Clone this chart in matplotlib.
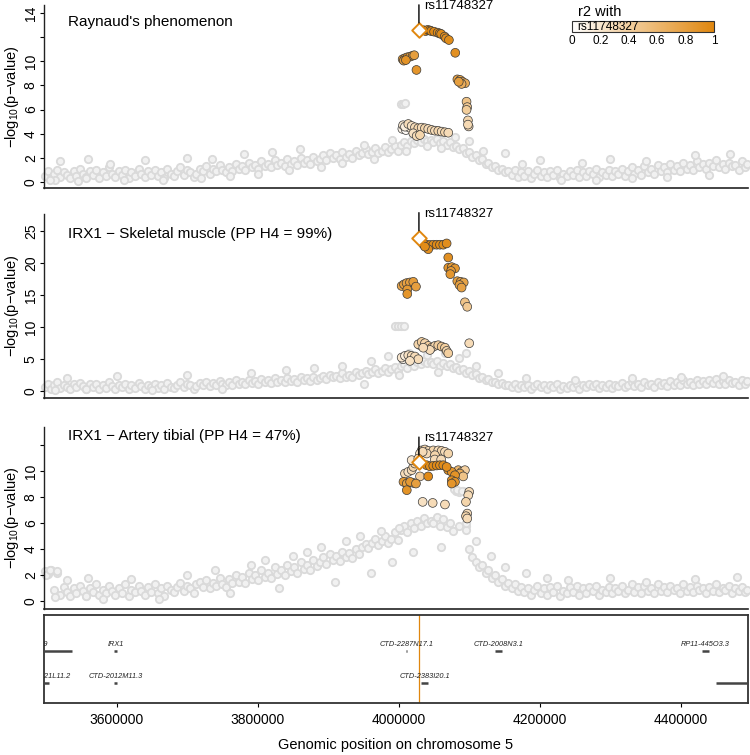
import matplotlib
matplotlib.use('Agg')
import matplotlib.pyplot as plt
from matplotlib.colors import LinearSegmentedColormap, Normalize
from matplotlib.cm import ScalarMappable
import numpy as np

plt.rcParams['font.family'] = ['Liberation Sans', 'DejaVu Sans']
plt.rcParams['mathtext.fontset'] = 'custom'
plt.rcParams['mathtext.rm'] = 'Liberation Sans'

# ---------------- data ----------------
lead_snp = "rs11748327"
lead_kb = 4028.5
titles = ["Raynaud's phenomenon",
          "IRX1 \u2212 Skeletal muscle (PP H4 = 99%)",
          "IRX1 \u2212 Artery tibial (PP H4 = 47%)"]
lead_y = [12.6, 24.0, 10.7]

# SNP positions (kb) without LD information (grey)
snp_kb = [3498, 3502, 3507, 3511, 3516, 3520, 3525, 3529, 3534, 3539,
          3543, 3548, 3552, 3557, 3562, 3566, 3571, 3575, 3580, 3585,
          3589, 3594, 3598, 3603, 3608, 3612, 3617, 3621, 3626, 3631,
          3635, 3640, 3644, 3649, 3654, 3658, 3663, 3667, 3672, 3677,
          3681, 3686, 3690, 3695, 3700, 3704, 3709, 3713, 3718, 3723,
          3727, 3732, 3736, 3741, 3746, 3750, 3755, 3759, 3764, 3769,
          3773, 3778, 3782, 3787, 3792, 3796, 3801, 3805, 3810, 3815,
          3819, 3824, 3828, 3833, 3838, 3842, 3847, 3851, 3856, 3861,
          3865, 3870, 3874, 3879, 3884, 3888, 3893, 3897, 3902, 3907,
          3911, 3916, 3920, 3925, 3930, 3934, 3939, 3943, 3948, 3953,
          3957, 3962, 3966, 3971, 3976, 3980, 3985, 3989, 3994, 3999,
          4003, 4008, 4012, 4017, 4022, 4026, 4031, 4035, 4040, 4045,
          4049, 4054, 4058, 4063, 4068, 4072, 4077, 4081, 4086, 4091,
          4095, 4100, 4104, 4109, 4114, 4118, 4123, 4127, 4132, 4137,
          4141, 4146, 4150, 4155, 4160, 4164, 4169, 4173, 4178, 4183,
          4187, 4192, 4196, 4201, 4206, 4210, 4215, 4219, 4224, 4229,
          4233, 4238, 4242, 4247, 4252, 4256, 4261, 4265, 4270, 4275,
          4279, 4284, 4288, 4293, 4298, 4302, 4307, 4311, 4316, 4321,
          4325, 4330, 4334, 4339, 4344, 4348, 4353, 4357, 4362, 4367,
          4371, 4376, 4380, 4385, 4390, 4394, 4399, 4403, 4408, 4413,
          4417, 4422, 4426, 4431, 4436, 4440, 4445, 4449, 4454, 4459,
          4463, 4468, 4472, 4477, 4482, 4486, 4491, 4494, 3513, 3556]

grey1_y = [0.5, 0.9, 0.3, 0.7, 1.0, 0.4, 0.8, 0.6, 0.3, 0.9,
           0.5, 1.1, 0.7, 0.4, 0.9, 0.6, 1.0, 0.3, 0.8, 0.5,
           1.2, 0.7, 0.4, 0.9, 0.6, 1.0, 0.3, 0.8, 0.5, 1.1,
           0.7, 0.4, 0.9, 0.6, 1.0, 0.5, 0.8, 0.3, 1.1, 0.7,
           0.5, 0.9, 1.2, 0.6, 1.0, 0.8, 0.4, 0.7, 1.1, 0.9,
           1.3, 0.7, 1.1, 0.9, 1.4, 1.0, 0.8, 1.2, 0.9, 1.5,
           1.1, 1.3, 1.0, 1.6, 1.2, 1.4, 1.1, 1.7, 1.3, 1.5,
           1.2, 1.8, 1.4, 1.6, 1.3, 1.9, 1.5, 1.7, 1.4, 2.0,
           1.6, 1.8, 1.5, 2.1, 1.7, 1.9, 2.2, 1.8, 2.4, 2.0,
           2.2, 1.9, 2.5, 2.1, 2.3, 2.0, 2.6, 2.2, 2.4, 2.7,
           2.3, 2.5, 2.8, 2.4, 2.6, 2.9, 2.5, 2.7, 3.0, 2.6,
           3.1, 3.3, 3.0, 3.4, 3.2, 3.5, 3.3, 3.6, 3.4, 3.5,
           3.3, 3.6, 3.2, 3.4, 3.1, 3.3, 2.9, 3.0, 2.7, 2.8,
           2.4, 2.5, 2.1, 2.2, 1.8, 1.9, 1.5, 1.6, 1.2, 1.3,
           1.0, 1.1, 0.8, 0.9, 0.6, 1.0, 0.4, 0.8, 0.5, 0.9,
           0.3, 0.7, 1.0, 0.5, 0.8, 0.4, 0.9, 0.6, 1.0, 0.3,
           0.7, 0.5, 0.9, 0.6, 1.0, 0.4, 0.8, 0.5, 0.9, 0.7,
           1.1, 0.4, 0.8, 0.6, 1.0, 0.5, 0.9, 0.7, 1.1, 0.5,
           0.9, 1.2, 0.7, 1.0, 0.6, 1.3, 0.8, 1.1, 0.7, 1.4,
           0.9, 1.2, 0.8, 1.5, 1.0, 1.3, 0.9, 1.6, 1.1, 1.4,
           1.0, 1.7, 1.2, 1.5, 1.1, 1.6, 1.3, 1.8, 1.2, 1.5,
           1.1, 1.6, 1.3, 1.4, 1.0, 1.7, 1.2, 1.5, 0.2, 0.3]

grey2_y = [0.6, 1.2, 0.4, 0.9, 1.4, 0.5, 1.0, 0.7, 0.3, 1.1,
           0.6, 1.3, 0.8, 0.4, 1.1, 0.7, 1.2, 0.3, 0.9, 0.5,
           1.4, 0.8, 0.4, 1.0, 0.6, 1.2, 0.3, 0.9, 0.5, 1.3,
           0.8, 0.4, 1.0, 0.6, 1.2, 0.5, 0.9, 0.3, 1.3, 0.7,
           0.5, 1.0, 1.4, 0.6, 1.2, 0.9, 0.4, 0.8, 1.3, 1.0,
           1.5, 0.8, 1.3, 1.0, 1.6, 1.1, 0.9, 1.4, 1.0, 1.7,
           1.2, 1.5, 1.1, 1.8, 1.3, 1.6, 1.2, 1.9, 1.4, 1.7,
           1.3, 2.0, 1.5, 1.8, 1.4, 2.1, 1.6, 1.9, 1.5, 2.2,
           1.7, 2.0, 1.6, 2.3, 1.8, 2.1, 2.4, 1.9, 2.6, 2.2,
           2.4, 2.0, 2.8, 2.3, 2.6, 2.2, 3.0, 2.5, 2.8, 3.2,
           2.7, 3.0, 3.4, 2.9, 3.2, 3.6, 3.0, 3.4, 3.8, 3.2,
           3.9, 4.2, 3.7, 4.4, 4.0, 4.6, 4.2, 4.8, 4.4, 4.5,
           4.2, 4.7, 4.0, 4.4, 3.9, 4.2, 3.6, 3.8, 3.3, 3.5,
           2.9, 3.1, 2.5, 2.7, 2.1, 2.3, 1.8, 1.9, 1.4, 1.5,
           1.1, 1.3, 0.9, 1.0, 0.7, 1.1, 0.5, 0.9, 0.6, 1.0,
           0.4, 0.8, 1.1, 0.6, 0.9, 0.4, 1.0, 0.7, 1.2, 0.3,
           0.8, 0.5, 1.0, 0.7, 1.2, 0.4, 0.9, 0.6, 1.1, 0.8,
           1.2, 0.5, 0.9, 0.7, 1.1, 0.5, 1.0, 0.8, 1.3, 0.6,
           1.0, 1.4, 0.8, 1.1, 0.7, 1.5, 0.9, 1.2, 0.7, 1.4,
           0.9, 1.3, 0.8, 1.6, 1.0, 1.4, 0.9, 1.7, 1.1, 1.5,
           1.0, 1.8, 1.2, 1.6, 1.1, 1.7, 1.3, 1.9, 1.2, 1.6,
           1.1, 1.7, 1.3, 1.5, 1.0, 1.8, 1.2, 1.6, 0.2, 0.3]

grey3_y = [2.3, 2.1, 2.4, 0.9, 2.2, 0.5, 1.1, 0.7, 0.4, 1.0,
           0.6, 1.2, 0.8, 0.4, 1.0, 0.7, 1.3, 0.5, 0.9, 0.6,
           1.2, 0.8, 0.5, 1.0, 0.6, 1.3, 0.4, 0.9, 0.7, 1.2,
           0.8, 0.5, 1.1, 0.7, 1.3, 0.6, 1.0, 0.4, 1.2, 0.9,
           0.7, 1.1, 1.4, 0.8, 1.2, 1.0, 0.6, 1.3, 1.5, 1.1,
           1.6, 1.0, 1.4, 1.2, 1.8, 1.3, 1.1, 1.7, 1.4, 2.0,
           1.5, 1.9, 1.4, 2.2, 1.7, 2.0, 1.6, 2.4, 1.9, 2.2,
           1.8, 2.6, 2.1, 2.4, 2.0, 2.8, 2.3, 2.6, 2.2, 3.0,
           2.5, 2.8, 2.4, 3.2, 2.7, 3.0, 3.4, 2.9, 3.6, 3.2,
           3.5, 3.1, 3.8, 3.4, 3.7, 3.3, 4.0, 3.6, 4.2, 4.4,
           4.1, 4.5, 4.8, 4.3, 4.6, 5.0, 4.5, 4.8, 5.3, 4.7,
           5.5, 5.8, 5.3, 6.0, 5.6, 6.2, 5.8, 6.4, 6.0, 6.2,
           6.0, 6.5, 5.8, 6.3, 5.7, 6.0, 5.4, 8.5, 8.4, 8.5,
           5.8, 4.0, 3.4, 3.0, 2.6, 2.8, 2.2, 2.4, 1.8, 2.0,
           1.5, 1.7, 1.2, 1.4, 1.0, 1.3, 0.8, 1.1, 0.7, 1.0,
           0.5, 0.9, 1.2, 0.6, 1.0, 0.5, 1.1, 0.7, 1.2, 0.4,
           0.8, 0.6, 1.1, 0.7, 1.2, 0.5, 1.0, 0.6, 1.1, 0.8,
           1.2, 0.5, 0.9, 0.7, 1.1, 0.6, 1.0, 0.8, 1.2, 0.6,
           0.9, 1.3, 0.7, 1.1, 0.6, 1.2, 0.8, 1.0, 0.6, 1.3,
           0.8, 1.1, 0.7, 1.2, 0.9, 1.0, 0.6, 1.3, 0.8, 1.1,
           0.7, 1.2, 0.9, 1.0, 0.6, 1.1, 0.8, 1.3, 0.7, 1.0,
           0.9, 1.2, 0.6, 1.0, 0.8, 1.1, 0.7, 0.9, 0.3, 0.4]

grey1_extra = [(3505, 0.2), (3520, 1.7), (3545, 0.1), (3560, 1.9), (3590, 1.5), (3610, 0.2),
               (3640, 1.8), (3665, 0.15), (3700, 2.0), (3720, 0.3), (3735, 1.9), (3760, 0.5),
               (3780, 2.3), (3800, 0.7), (3820, 2.5), (3845, 1.0), (3860, 2.7), (3890, 1.2),
               (3920, 1.6), (3950, 3.1), (3965, 1.9), (3990, 3.5), (4010, 2.6), (4020, 4.0),
               (4040, 3.0), (4060, 2.8), (4080, 3.7), (4100, 3.4), (4120, 2.6), (4150, 2.4),
               (4175, 1.5), (4200, 1.8), (4230, 0.2), (4260, 1.6), (4280, 0.2), (4300, 1.9),
               (4330, 0.3), (4350, 1.7), (4380, 0.4), (4420, 2.2), (4440, 0.6), (4470, 2.3),
               (4003, 6.5), (4006, 6.5), (4009, 6.55)]
grey2_extra = [(3530, 2.1), (3600, 2.4), (3650, 0.2), (3700, 2.6), (3750, 0.3), (3790, 2.9),
               (3840, 3.3), (3880, 3.6), (3920, 4.0), (3950, 1.2), (3960, 4.8), (3985, 5.5),
               (4000, 2.5), (4015, 6.0), (4040, 5.6), (4055, 3.0), (4065, 5.9), (4085, 5.2),
               (4095, 6.0), (4110, 4.0), (4140, 2.8), (4180, 2.0), (4250, 1.8), (4330, 2.0),
               (4400, 2.2), (4460, 2.4), (3995, 10.2), (3999, 10.2), (4003, 10.2), (4007, 10.25)]
grey3_extra = [(3500, 2.0), (3505, 2.4), (3515, 2.3), (3530, 1.6), (3560, 1.8), (3580, 0.2),
               (3620, 1.7), (3660, 0.2), (3700, 2.0), (3740, 2.4), (3760, 0.6), (3790, 2.8),
               (3810, 3.2), (3830, 1.0), (3850, 3.5), (3870, 3.8), (3890, 4.2), (3910, 1.5),
               (3925, 4.6), (3945, 5.0), (3960, 2.2), (3975, 5.4), (3990, 3.0), (4000, 5.6),
               (4020, 3.8), (4060, 4.2), (4085, 5.8), (4095, 5.5), (4110, 4.6), (4130, 3.5),
               (4150, 2.6), (4180, 2.2), (4210, 1.8), (4240, 1.6), (4300, 1.8), (4350, 1.5),
               (4420, 1.7), (4480, 1.9), (4078, 8.6), (4083, 8.55), (4090, 8.45), (4095, 6.0)]

# SNPs in LD with the lead SNP: (kb, -log10 p, r2)
ld1 = [(4005, 4.4, 0.10), (4010, 4.3, 0.05), (4015, 4.5, 0.20), (4006, 4.7, 0.20),
       (4008.7, 4.58, 0.15), (4013.4, 4.80, 0.30), (4018.2, 4.64, 0.25), (4022.9, 4.53, 0.30),
       (4027.6, 4.45, 0.35), (4032.4, 4.50, 0.30), (4037.0, 4.45, 0.35), (4041.7, 4.39, 0.30),
       (4046.5, 4.31, 0.35), (4051.2, 4.25, 0.30), (4055.9, 4.23, 0.35), (4060.7, 4.17, 0.30),
       (4065.4, 4.12, 0.35), (4070.1, 4.08, 0.30), (4020.5, 4.03, 0.25), (4025.3, 3.81, 0.30),
       (4030.0, 3.89, 0.35),
       (4098, 5.1, 0.35), (4099, 4.6, 0.30), (4098, 4.75, 0.32),
       (4096, 6.65, 0.50), (4097, 6.2, 0.45), (4096, 5.97, 0.42),
       (4083, 8.5, 0.78), (4087, 8.45, 0.75), (4090, 8.31, 0.72), (4094, 8.18, 0.70),
       (4089, 8.12, 0.68), (4085, 8.3, 0.80),
       (4025, 9.28, 0.88),
       (4005.4, 10.17, 0.85), (4008.7, 10.25, 0.80), (4012, 10.33, 0.88), (4015.8, 10.38, 0.82),
       (4019.6, 10.46, 0.85), (4021.9, 10.5, 0.80), (4007, 10.05, 0.83), (4010, 10.1, 0.90),
       (4080, 10.7, 0.92),
       (4035, 12.57, 0.98), (4038, 12.5, 0.99), (4041, 12.6, 0.97), (4044, 12.55, 0.95),
       (4046, 12.5, 0.96), (4050, 12.45, 0.97), (4055, 12.37, 0.95), (4058, 12.3, 0.90),
       (4060, 12.26, 0.96), (4065, 12.04, 0.94), (4067, 11.9, 0.93), (4071, 11.76, 0.95)]

ld2 = [(4006, 5.0, 0.10), (4004, 5.26, 0.20), (4008.7, 5.52, 0.15), (4013.4, 5.63, 0.25),
       (4018.2, 5.52, 0.30), (4022.9, 5.42, 0.30), (4027.6, 5.0, 0.30), (4015.8, 4.74, 0.25),
       (4030, 7.2, 0.25), (4027.6, 7.34, 0.35), (4032.4, 7.7, 0.40), (4037, 7.5, 0.35),
       (4041.7, 7.08, 0.40), (4046.5, 6.8, 0.45), (4051.2, 7.08, 0.35), (4055.9, 7.19, 0.40),
       (4060.7, 6.98, 0.45), (4065.4, 6.8, 0.40), (4067.8, 6.3, 0.35), (4070.1, 5.94, 0.40),
       (4044.1, 6.45, 0.30), (4034.6, 6.8, 0.30),
       (4099.8, 7.5, 0.30),
       (4093.7, 13.9, 0.50), (4097, 13.2, 0.45),
       (4004, 16.45, 0.75), (4007.3, 16.7, 0.80), (4011, 16.9, 0.78), (4015.8, 17.0, 0.80),
       (4020.5, 17.1, 0.82), (4024.3, 16.35, 0.80), (4012, 15.9, 0.85), (4012, 15.2, 0.88),
       (4082.9, 17.2, 0.80), (4087.7, 17.1, 0.78), (4092, 17.0, 0.76), (4086, 16.6, 0.80),
       (4089, 16.2, 0.78),
       (4070.1, 19.3, 0.88), (4075, 19.4, 0.85), (4079.6, 19.2, 0.87), (4074, 18.8, 0.84),
       (4073, 18.3, 0.86),
       (4070.1, 20.9, 0.92),
       (4034.6, 22.97, 0.97), (4039.5, 22.9, 0.96), (4044.1, 22.85, 0.98), (4048.8, 22.9, 0.95),
       (4053.6, 22.9, 0.97), (4058.3, 22.9, 0.96), (4063, 22.9, 0.95), (4067.8, 23.1, 0.94),
       (4041.7, 22.2, 0.93), (4037, 22.6, 0.95)]

ld3 = [(4033.8, 7.64, 0.25), (4048, 7.56, 0.30), (4065.4, 7.44, 0.30),
       (4099.8, 8.41, 0.30), (4098.4, 8.15, 0.30), (4095.2, 7.64, 0.35), (4097, 6.74, 0.30),
       (4095.2, 6.54, 0.35), (4097, 6.36, 0.30),
       (4032.4, 11.6, 0.30), (4037, 11.67, 0.35), (4041.7, 11.56, 0.30), (4048.8, 11.6, 0.35),
       (4055.9, 11.6, 0.30), (4060.7, 11.56, 0.35), (4065.4, 11.49, 0.30), (4070.1, 11.36, 0.35),
       (4039.5, 11.36, 0.30), (4051.2, 11.23, 0.35), (4030, 11.36, 0.25), (4033.8, 11.49, 0.30),
       (4051, 10.9, 0.30), (4060, 10.9, 0.30),
       (4008.7, 9.82, 0.30), (4013.4, 9.95, 0.25), (4018.2, 10.08, 0.30), (4020.5, 10.33, 0.35),
       (4022.9, 10.59, 0.30), (4025.3, 10.72, 0.25), (4018.2, 10.85, 0.20), (4027.6, 10.97, 0.30),
       (4030, 9.6, 0.40), (4020.5, 9.1, 0.50),
       (4084.3, 10.08, 0.60), (4089.1, 9.95, 0.50), (4093.7, 10.08, 0.40), (4086.7, 9.82, 0.70),
       (4091.3, 9.6, 0.50),
       (4006.6, 9.18, 0.85), (4011.3, 9.05, 0.80), (4016, 9.18, 0.85), (4024.3, 9.05, 0.80),
       (4011.3, 8.54, 0.90),
       (4041.7, 9.6, 0.97),
       (4070.1, 10.08, 0.90), (4075, 9.95, 0.88), (4079.6, 9.69, 0.90), (4075, 9.3, 0.92),
       (4079.6, 9.18, 0.90), (4075, 9.05, 0.88),
       (4039.5, 10.46, 0.97), (4044.1, 10.38, 0.95), (4048.8, 10.41, 0.96), (4053.6, 10.44, 0.97),
       (4058.3, 10.46, 0.95), (4063, 10.46, 0.96), (4067.8, 10.33, 0.94)]

# genes: (name, start kb, end kb, row); the last gene's label lies outside the window
genes = [("LINC01019", 3416, 3536, 1),
         ("IRX1", 3596, 3601, 1),
         ("CTD-2287N17.1", 4010.5, 4011.5, 1),
         ("CTD-2008N3.1", 4136, 4146, 1),
         ("RP11-445O3.3", 4430, 4440, 1),
         ("CTD-2121L11.2", 3492, 3504, 2),
         ("CTD-2012M11.3", 3596, 3600, 2),
         ("CTD-2383I20.1", 4032, 4042, 2),
         ("", 4450, 4720, 2)]

x_ticks = [3600000, 3800000, 4000000, 4200000, 4400000]
y_ticks = [[0, 2, 4, 6, 8, 10, 12, 14], [0, 5, 10, 15, 20, 25], [0, 2, 4, 6, 8, 10, 12]]
y_ticklabels = [["0", "2", "4", "6", "8", "10", "", "14"],
                ["0", "5", "10", "15", "20", "25"],
                ["0", "2", "4", "6", "8", "10", ""]]
cbar_ticks = [0, 0.2, 0.4, 0.6, 0.8, 1]
cbar_ticklabels = ["0", "0.2", "0.4", "0.6", "0.8", "1"]

# ---------------- layout ----------------
W, H = 750, 755
fig = plt.figure(figsize=(W / 100, H / 100), dpi=100)


def rect(left, top, right, bottom):
    return [left / W, 1 - bottom / H, (right - left) / W, (bottom - top) / H]


XMIN, XMAX = 3497000, 4495000
ORANGE = '#E0870F'
cmap = LinearSegmentedColormap.from_list('r2', ['#FFFFFF', ORANGE])
norm = Normalize(0, 1)

panel_px = [(5, 188), (214, 398), (427, 609)]
ylims = [(-0.5, 14.66), (-1.06, 27.7), (-0.6, 13.4)]
title_px = [22, 234, 436]
greys_y = [grey1_y, grey2_y, grey3_y]
greys_extra = [grey1_extra, grey2_extra, grey3_extra]
lds = [ld1, ld2, ld3]

for i in range(3):
    top, bot = panel_px[i]
    ax = fig.add_axes(rect(44, top, 748, bot))
    ax.set_xlim(XMIN, XMAX)
    ax.set_ylim(*ylims[i])
    gx = [k * 1000 for k in snp_kb] + [p[0] * 1000 for p in greys_extra[i]]
    gy = list(greys_y[i]) + [p[1] for p in greys_extra[i]]
    ax.scatter(gx, gy, s=28, facecolors='#f1f1f1', edgecolors='#dadada',
               linewidths=1.3, zorder=1, clip_on=False)
    lx = [p[0] * 1000 for p in lds[i]]
    ly = [p[1] for p in lds[i]]
    lr = [p[2] for p in lds[i]]
    ax.scatter(lx, ly, c=lr, cmap=cmap, norm=norm, s=40,
               edgecolors='#3a3a3a', linewidths=0.5, zorder=2)
    ax.scatter([lead_kb * 1000], [lead_y[i]], marker='D', s=55, facecolors='white',
               edgecolors=ORANGE, linewidths=1.4, zorder=4)
    ax.annotate('', xy=(lead_kb * 1000, lead_y[i]), xytext=(0, 25),
                textcoords='offset pixels',
                arrowprops=dict(arrowstyle='-', lw=1.0, color='black',
                                shrinkA=0, shrinkB=5), zorder=5)
    ax.annotate(lead_snp, xy=(lead_kb * 1000, lead_y[i]), xytext=(5, 24),
                textcoords='offset pixels', fontsize=9.5, ha='left', va='center')
    for s in ['top', 'right']:
        ax.spines[s].set_visible(False)
    ax.spines['left'].set_linewidth(1.0)
    ax.spines['bottom'].set_linewidth(1.2)
    ax.spines['left'].set_color('#222222')
    ax.spines['bottom'].set_color('#222222')
    ax.set_xticks([])
    ax.set_yticks(y_ticks[i])
    ax.set_yticklabels(y_ticklabels[i], rotation=90, va='center')
    ax.tick_params(axis='y', length=3, width=0.8, pad=1.5, labelsize=10)
    fig.text(68 / W, 1 - title_px[i] / H, titles[i], fontsize=11, ha='left', va='center')
    fig.text(12 / W, 1 - ((top + bot) / 2) / H, r'$-$log$_{\mathrm{10}}$(p$-$value)',
             rotation=90, ha='center', va='center', fontsize=10.5)

# gene track
axg = fig.add_axes(rect(44, 615, 748, 703))
axg.set_xlim(XMIN, XMAX)
axg.set_ylim(0, 1)
for s in axg.spines.values():
    s.set_linewidth(1.3)
    s.set_color('#333333')
axg.set_yticks([])
axg.set_xticks(x_ticks)
axg.set_xticklabels([str(v) for v in x_ticks])
axg.tick_params(axis='x', length=3, width=0.8, labelsize=10, pad=4)
axg.axvline(lead_kb * 1000, color=ORANGE, lw=0.9)
row_y = {1: 0.59, 2: 0.227}
for name, st, en, row in genes:
    y = row_y[row]
    axg.plot([st * 1000, en * 1000], [y, y], color='#444444', lw=1.8,
             solid_capstyle='butt', zorder=3)
    if name:
        axg.text((st + en) / 2 * 1000, y + 0.075, name, fontsize=5.3, style='italic',
                 ha='center', va='center', clip_on=True, color='#222222')

fig.text(396 / W, 1 - 745 / H, 'Genomic position on chromosome 5',
         ha='center', va='center', fontsize=10.5)

# r2 legend
cax = fig.add_axes(rect(572, 21, 714, 32))
cb = fig.colorbar(ScalarMappable(norm=norm, cmap=cmap), cax=cax, orientation='horizontal')
cb.set_ticks(cbar_ticks)
cb.set_ticklabels(cbar_ticklabels)
cb.outline.set_linewidth(0.8)
cb.outline.set_edgecolor('#333333')
cax.tick_params(length=0, labelsize=8.5, pad=2)
cax.text(0.04, 0.5, lead_snp, transform=cax.transAxes, fontsize=8.5,
         ha='left', va='center')
fig.text(578 / W, 1 - 12 / H, 'r2 with', fontsize=10.5, ha='left', va='center')

fig.savefig('out.png', dpi=100)
